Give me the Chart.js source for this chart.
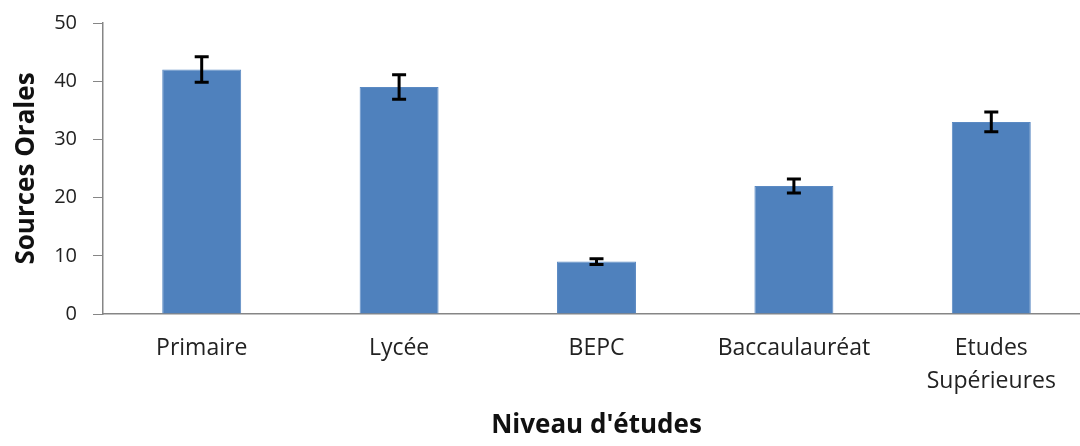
<!DOCTYPE html>
<html>
<head>
<meta charset="utf-8">
<script src="https://cdn.jsdelivr.net/npm/chart.js@4/dist/chart.umd.min.js"></script>
<style>
    html, body { margin: 0; padding: 0; background: #fff; overflow: hidden; }
    #wrap { width: 1090px; height: 446px; position: relative; }
</style>
</head>
<body>
<div id="wrap"><canvas id="chart"></canvas></div>
<script>
const categories = ['Primaire', 'Lycée', 'BEPC', 'Baccaulauréat', ['Etudes', 'Supérieures']];
const values = [42, 39, 9, 22, 33];
const errors = [2.2, 2.1, 0.5, 1.2, 1.7];
const yTicks = [0, 10, 20, 30, 40, 50];

const FONT = "'Open Sans', sans-serif";

// Draw the error bars with the chart's own scales
const errorBars = {
    id: 'errorBars',
    afterDatasetsDraw(chart) {
        const ctx = chart.ctx;
        const meta = chart.getDatasetMeta(0);
        const y = chart.scales.y;
        ctx.save();
        ctx.strokeStyle = '#000';
        ctx.lineWidth = 3;
        meta.data.forEach((bar, i) => {
            const top = y.getPixelForValue(values[i] + errors[i]);
            const bottom = y.getPixelForValue(values[i] - errors[i]);
            const x = bar.x;
            ctx.beginPath();
            ctx.moveTo(x, top);
            ctx.lineTo(x, bottom);
            ctx.moveTo(x - 7, top);
            ctx.lineTo(x + 7, top);
            ctx.moveTo(x - 7, bottom);
            ctx.lineTo(x + 7, bottom);
            ctx.stroke();
        });
        ctx.restore();
    }
};

new Chart(document.getElementById('chart'), {
    type: 'bar',
    data: {
        labels: categories,
        datasets: [{
            data: values,
            backgroundColor: '#4f81bd',
            borderColor: '#5b8ac3',
            borderWidth: 1,
            barPercentage: 0.4,
            categoryPercentage: 1
        }]
    },
    options: {
        responsive: true,
        maintainAspectRatio: false,
        animation: false,
        layout: { padding: { top: 23, left: 0, right: 0, bottom: 0 } },
        plugins: { legend: { display: false }, tooltip: { enabled: false } },
        scales: {
            x: {
                afterFit(scale) { scale.height = 132; },
                grid: { display: true, drawOnChartArea: false, drawTicks: false },
                border: { display: true, color: '#868686', width: 1.5 },
                ticks: {
                    color: '#222',
                    padding: 18,
                    maxRotation: 0,
                    font: { family: FONT, size: 23, lineHeight: 1.43 }
                },
                title: {
                    display: true,
                    text: "Niveau d'études",
                    color: '#111',
                    padding: { bottom: 5 },
                    font: { family: FONT, size: 26, weight: 'bold', lineHeight: 1.2 }
                }
            },
            y: {
                min: 0,
                max: 50,
                afterFit(scale) {
                    scale.width = 103;
                    // the top label fits inside the layout padding already
                    scale.paddingTop = 0;
                    scale.paddingBottom = 0;
                },
                afterBuildTicks(scale) { scale.ticks = yTicks.map(v => ({ value: v })); },
                grid: { display: true, drawOnChartArea: false, drawTicks: true, tickLength: 10, color: '#868686' },
                border: { display: true, color: '#868686', width: 1.5 },
                ticks: {
                    color: '#222',
                    padding: 16,
                    font: { family: FONT, size: 20 }
                },
                title: {
                    display: true,
                    text: 'Sources Orales',
                    color: '#111',
                    padding: { top: 11 },
                    font: { family: FONT, size: 26, weight: 'bold', lineHeight: 1.2 }
                }
            }
        }
    },
    plugins: [errorBars]
});
</script>
</body>
</html>
